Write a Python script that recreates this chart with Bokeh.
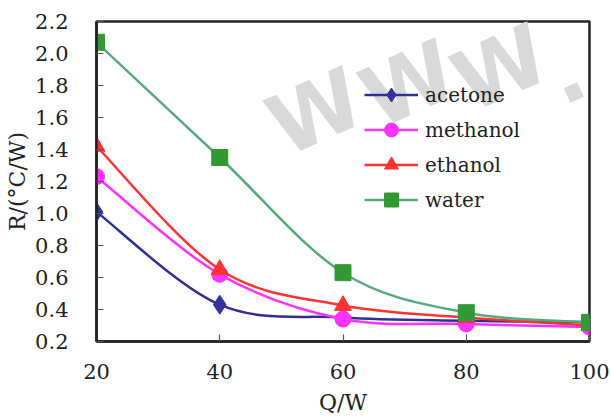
import numpy as np
from bokeh.plotting import figure
from bokeh.models import FixedTicker, Legend, LegendItem, Label, Range1d
from bokeh.embed import file_html
from bokeh.resources import INLINE

# ---- data ----
power = [20, 40, 60, 80, 100]
acetone = [1.01, 0.43, 0.35, 0.33, 0.32]
methanol = [1.23, 0.62, 0.34, 0.31, 0.29]
ethanol = [1.42, 0.65, 0.425, 0.35, 0.30]
water = [2.07, 1.35, 0.63, 0.38, 0.32]
x_ticks = [20, 40, 60, 80, 100]
y_ticks = [0.2, 0.4, 0.6, 0.8, 1.0, 1.2, 1.4, 1.6, 1.8, 2.0, 2.2]
watermark = ["W", "W", "W", "."]

FONT = "DejaVu Serif"

p = figure(width=611, height=417, output_backend="svg", toolbar_location=None,
           x_range=Range1d(20, 100), y_range=Range1d(0.2, 2.2),
           min_border_left=96, min_border_top=21, min_border_right=22, min_border_bottom=76)
p.background_fill_color = None
p.border_fill_color = "white"
p.xgrid.visible = False
p.ygrid.visible = False
p.outline_line_color = "#222222"
p.outline_line_width = 2.5

for ax in (p.xaxis[0], p.yaxis[0]):
    ax.axis_line_color = "#222222"
    ax.axis_line_width = 2.5
    ax.major_tick_in = 7
    ax.major_tick_out = 0
    ax.major_tick_line_color = "#555555"
    ax.major_tick_line_width = 1.2
    ax.minor_tick_line_color = None
    ax.major_label_text_font = FONT
    ax.major_label_text_font_size = "21px"
    ax.major_label_text_color = "#222222"
    ax.axis_label_text_font = FONT
    ax.axis_label_text_font_size = "22px"
    ax.axis_label_text_font_style = "normal"
    ax.axis_label_text_color = "#222222"

p.xaxis.ticker = FixedTicker(ticks=x_ticks)
p.yaxis.ticker = FixedTicker(ticks=y_ticks)
p.yaxis.major_label_overrides = {v: f"{v:.1f}" for v in y_ticks}
p.xaxis.major_label_standoff = 22
p.yaxis.major_label_standoff = 28
p.xaxis.axis_label = "Q/W"
p.yaxis.axis_label = "R/(°C/W)"
p.xaxis.axis_label_standoff = 8
p.yaxis.axis_label_standoff = 2

wm_pos = [(219, 229), (312, 257), (404, 273), (468, 270)]
for ch, (wx, wy) in zip(watermark, wm_pos):
    p.add_layout(Label(x=wx, y=wy, x_units="screen", y_units="screen", text=ch,
                       text_font="DejaVu Sans", text_font_style="bold",
                       text_font_size="84px", text_color="#d9d9d9",
                       text_align="center", text_baseline="middle",
                       angle=0.42, level="underlay"))


def smooth(xs, ys):
    x = np.asarray(xs, float)
    y = np.asarray(ys, float)
    xp = np.concatenate([[x[0]], x, [x[-1]]])
    yp = np.concatenate([[y[0]], y, [y[-1]]])
    n = len(x)
    x0, y0 = x[:-1], y[:-1]
    x1, y1 = x[1:], y[1:]
    cx0 = x0 + (xp[2:n + 1] - xp[0:n - 1]) / 6
    cy0 = y0 + (yp[2:n + 1] - yp[0:n - 1]) / 6
    cx1 = x1 - (xp[3:n + 2] - xp[1:n]) / 6
    cy1 = y1 - (yp[3:n + 2] - yp[1:n]) / 6
    return dict(x0=x0, y0=y0, x1=x1, y1=y1, cx0=cx0, cy0=cy0, cx1=cx1, cy1=cy1)


series = [
    ("acetone", acetone, "#2e3192", "#333399", "diamond", 19),
    ("methanol", methanol, "#ff33ff", "#ff33ff", "circle", 16),
    ("ethanol", ethanol, "#ff3333", "#ff3333", "triangle", 17),
    ("water", water, "#55a97c", "#339933", "square", 16),
]

items = []
for name, vals, lc, mc, mk, sz in series:
    b = p.bezier(line_color=lc, line_width=2.5, **smooth(power, vals))
    s = p.scatter(power, vals, marker=mk, size=sz, fill_color=mc, line_color=mc)
    items.append(LegendItem(label=name, renderers=[b, s]))

legend = Legend(items=items, location=(268, 124), background_fill_alpha=0,
                border_line_color=None, padding=0, margin=0, spacing=0,
                glyph_width=54, glyph_height=35, label_standoff=7,
                label_text_font=FONT, label_text_font_size="20px",
                label_text_color="#222222")
p.add_layout(legend)

open("out.html", "w").write(file_html(p, INLINE))
